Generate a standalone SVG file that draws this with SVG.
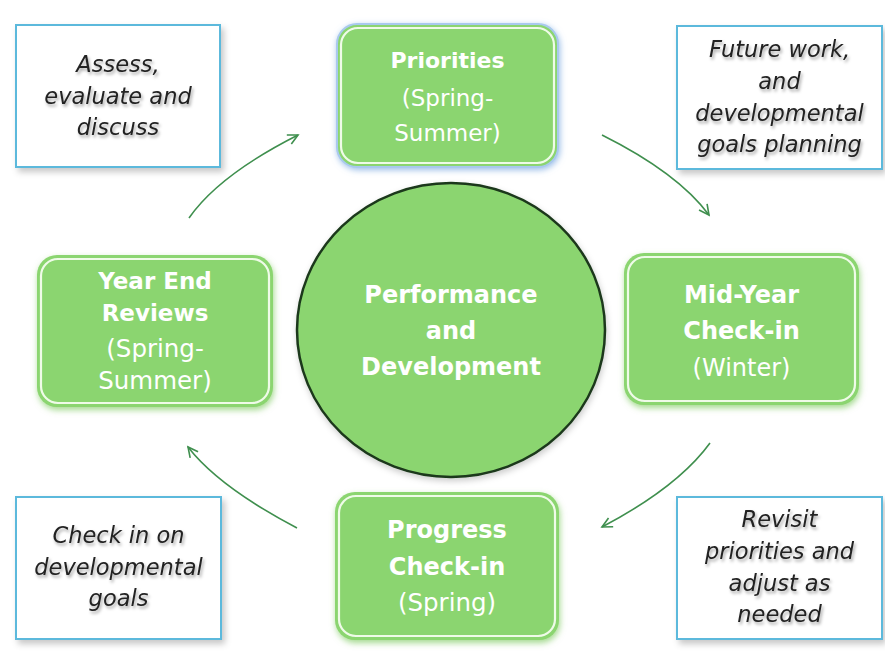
<svg xmlns="http://www.w3.org/2000/svg" width="885" height="661" viewBox="0 0 885 661">
<style>
.note rect{fill:#ffffff;stroke:#5cb9dc;stroke-width:2}
.note text{font-family:"DejaVu Sans",sans-serif;font-style:italic;font-size:22.5px;fill:#232323;text-anchor:middle}
.gbox{fill:#8bd56f}
.inner{fill:none;stroke:#effbe8;stroke-width:2.2}
.t{font-family:"DejaVu Sans",sans-serif;fill:#ffffff;text-anchor:middle}
.b{font-weight:bold}
.conn path{fill:none;stroke:#3f8f4e;stroke-width:1.6}
</style>
<defs>
<filter id="noteShadow" x="-10%" y="-10%" width="125%" height="130%">
<feDropShadow dx="3" dy="4" stdDeviation="3" flood-color="#000" flood-opacity="0.22"/>
</filter>
<filter id="txtShadow" x="-10%" y="-30%" width="125%" height="170%">
<feDropShadow dx="1.5" dy="2.5" stdDeviation="1.6" flood-color="#000" flood-opacity="0.35"/>
</filter>
<filter id="glow" x="-15%" y="-15%" width="130%" height="135%">
<feGaussianBlur in="SourceAlpha" stdDeviation="3" result="b"/>
<feFlood flood-color="#7cc95e" flood-opacity="0.7"/>
<feComposite in2="b" operator="in" result="g"/>
<feOffset in="g" dx="1" dy="3" result="go"/>
<feMerge><feMergeNode in="go"/><feMergeNode in="SourceGraphic"/></feMerge>
</filter>
<filter id="blueglow" x="-15%" y="-15%" width="130%" height="135%">
<feGaussianBlur in="SourceAlpha" stdDeviation="3" result="b"/>
<feFlood flood-color="#8fb6e6" flood-opacity="0.9"/>
<feComposite in2="b" operator="in" result="g"/>
<feOffset in="g" dx="1" dy="2" result="go"/>
<feMerge><feMergeNode in="go"/><feMergeNode in="SourceGraphic"/></feMerge>
</filter>
<filter id="circShadow" x="-10%" y="-10%" width="120%" height="125%">
<feDropShadow dx="1" dy="3" stdDeviation="3" flood-color="#000" flood-opacity="0.2"/>
</filter>
<marker id="arr" markerUnits="userSpaceOnUse" markerWidth="14" markerHeight="14" refX="11" refY="6" orient="auto">
<path d="M1,1 L11,6 L1,11" fill="none" stroke="#3f8f4e" stroke-width="1.6"/>
</marker>
</defs>
<rect width="885" height="661" fill="#ffffff"/>

<g id="note-assess" class="note">
<rect x="16" y="25" width="204" height="142" filter="url(#noteShadow)"/>
<g filter="url(#txtShadow)">
<text x="118" y="72">Assess,</text>
<text x="118" y="104">evaluate and</text>
<text x="118" y="135">discuss</text>
</g>
</g>

<g id="note-future" class="note">
<rect x="677" y="26" width="205" height="143" filter="url(#noteShadow)"/>
<g filter="url(#txtShadow)">
<text x="779.5" y="57">Future work,</text>
<text x="779.5" y="89">and</text>
<text x="779.5" y="121">developmental</text>
<text x="779.5" y="152">goals planning</text>
</g>
</g>

<g id="note-checkin" class="note">
<rect x="16" y="497" width="205" height="142" filter="url(#noteShadow)"/>
<g filter="url(#txtShadow)">
<text x="118.5" y="543">Check in on</text>
<text x="118.5" y="575">developmental</text>
<text x="118.5" y="606">goals</text>
</g>
</g>

<g id="note-revisit" class="note">
<rect x="677" y="497" width="205" height="142" filter="url(#noteShadow)"/>
<g filter="url(#txtShadow)">
<text x="779.5" y="527">Revisit</text>
<text x="779.5" y="559">priorities and</text>
<text x="779.5" y="591">adjust as</text>
<text x="779.5" y="622">needed</text>
</g>
</g>

<g id="center">
<ellipse cx="451" cy="330" rx="154" ry="147" fill="#8bd56f" stroke="#1b381b" stroke-width="2.5" filter="url(#circShadow)"/>
<text class="t b" x="451" y="303" font-size="24">Performance</text>
<text class="t b" x="451" y="339" font-size="24">and</text>
<text class="t b" x="451" y="375" font-size="24">Development</text>
</g>

<g id="priorities">
<rect class="gbox" x="337" y="24" width="221" height="143" rx="20" filter="url(#blueglow)" stroke="#a9c9ee" stroke-width="2"/>
<rect class="inner" x="341" y="28" width="213" height="135" rx="17"/>
<text class="t b" x="447.5" y="68" font-size="22">Priorities</text>
<text class="t" x="447.5" y="106" font-size="23">(Spring-</text>
<text class="t" x="447.5" y="141" font-size="23">Summer)</text>
</g>

<g id="midyear">
<rect class="gbox" x="624" y="253" width="235" height="152" rx="20" filter="url(#glow)"/>
<rect class="inner" x="628" y="257" width="227" height="144" rx="17"/>
<text class="t b" x="741.5" y="303" font-size="24">Mid-Year</text>
<text class="t b" x="741.5" y="339" font-size="24">Check-in</text>
<text class="t" x="741.5" y="376" font-size="24">(Winter)</text>
</g>

<g id="progress">
<rect class="gbox" x="335" y="492" width="224" height="148" rx="20" filter="url(#glow)"/>
<rect class="inner" x="339" y="496" width="216" height="140" rx="17"/>
<text class="t b" x="447" y="538" font-size="24">Progress</text>
<text class="t b" x="447" y="575" font-size="24">Check-in</text>
<text class="t" x="447" y="611" font-size="24.5">(Spring)</text>
</g>

<g id="yearend">
<rect class="gbox" x="37" y="255" width="236" height="152" rx="20" filter="url(#glow)"/>
<rect class="inner" x="41" y="259" width="228" height="144" rx="17"/>
<text class="t b" x="155" y="289" font-size="23">Year End</text>
<text class="t b" x="155" y="321" font-size="23">Reviews</text>
<text class="t" x="155" y="357" font-size="24.5">(Spring-</text>
<text class="t" x="155" y="389" font-size="24.5">Summer)</text>
</g>

<g id="connectors" class="conn">
<path d="M189,218 Q219,175 298,135" marker-end="url(#arr)"/>
<path d="M602,135 Q678,173 709,215" marker-end="url(#arr)"/>
<path d="M710,443 Q678,487 602,527" marker-end="url(#arr)"/>
<path d="M297,528 Q219,487 188,447" marker-end="url(#arr)"/>
</g>
</svg>
